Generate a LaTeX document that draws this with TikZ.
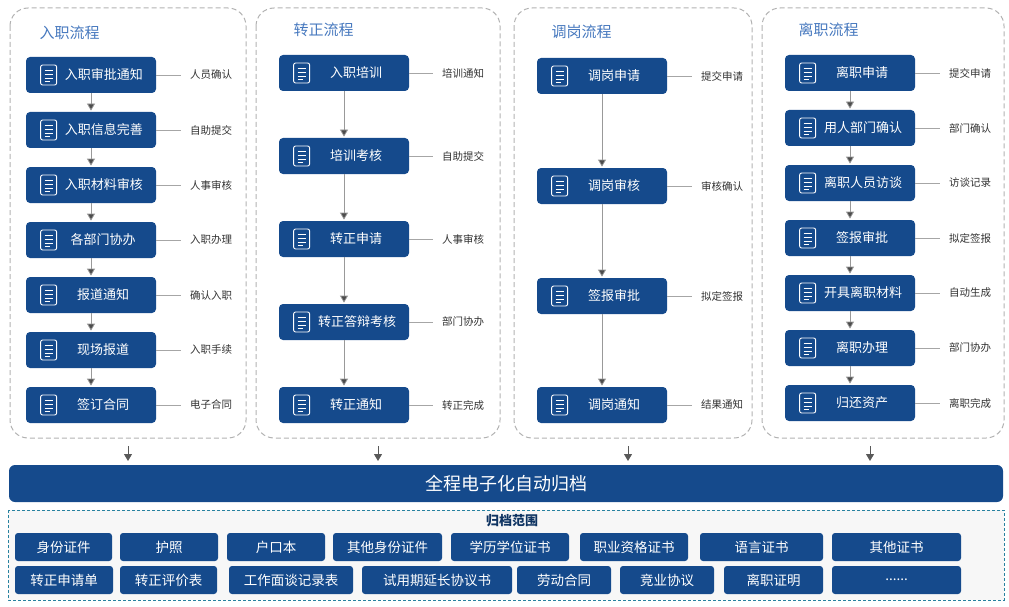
\documentclass[tikz,border=0pt]{standalone}
\usepackage{fontspec}
\setmainfont{Noto Sans CJK SC}
\usetikzlibrary{arrows.meta,calc}
\definecolor{navy}{RGB}{21,74,140}
\definecolor{ttl}{RGB}{70,120,190}
\definecolor{teal}{RGB}{40,130,160}
\newcommand{\moredots}{......}
\tikzset{every picture/.style={line width=0.75pt}}
\tikzset{
  stepbox/.style={fill=navy,rounded corners=4pt,minimum width=130pt,minimum height=36pt,text=white,font=\fontsize{13}{15}\selectfont,text width=100pt,align=center,inner sep=0pt},
  note/.style={font=\fontsize{10.5}{12}\selectfont,text=black!80,inner sep=1pt},
  col/.style={draw=gray!60,dash pattern={on 5pt off 3pt},rounded corners=18pt,line width=1pt},
  flow/.style={draw=gray!80,-{Triangle[length=7pt,width=8pt,fill=black!70]},shorten >=1pt},
  item/.style={fill=navy,rounded corners=3pt,minimum height=28pt,text=white,font=\fontsize{13.5}{15}\selectfont,inner sep=0pt},
  ttlnode/.style={text=ttl,font=\fontsize{15}{17}\selectfont,anchor=west},
}
\newcommand{\docicon}[1]{%
  \draw[white,line width=0.9pt,rounded corners=2pt] ($(#1.west)+(15,-10)$) rectangle ($(#1.west)+(31,10)$);
  \foreach \yy in {-5,-1,3} \draw[white,line width=0.8pt] ($(#1.west)+(19,\yy)$) -- ($(#1.west)+(27,\yy)$);
  \draw[white,line width=0.8pt] ($(#1.west)+(19,6)$) -- ($(#1.west)+(24,6)$);
}
\begin{document}
\begin{tikzpicture}[x=1pt,y=-1pt]
\useasboundingbox (0,0) rectangle (1009,607);

% columns
\draw[col] (10,8) rectangle (246,438);
\draw[col] (256,8) rectangle (500,438);
\draw[col] (514,8) rectangle (752,438);
\draw[col] (762,8) rectangle (1004,438);
\node[ttlnode] (t1) at (36,33) {入职流程};
\node[ttlnode] (t2) at (290,30) {转正流程};
\node[ttlnode] (t3) at (548,32) {调岗流程};
\node[ttlnode] (t4) at (795,30) {离职流程};

% entry flow
\foreach \lab/\nt [count=\i] in {入职审批通知/人员确认,入职信息完善/自助提交,入职材料审核/人事审核,各部门协办/入职办理,报道通知/确认入职,现场报道/入职手续,签订合同/电子合同}{
  \node[stepbox] (rz\i) at (91,{20+55*\i}) {\hspace*{24pt}\lab};
  \docicon{rz\i}
  \node[note] (rzn\i) at (211,{20+55*\i}) {\nt};
  \draw[gray!70,shorten >=8pt] (rz\i.east) -- (rzn\i.west);
}
\foreach \i [evaluate=\i as \j using int(\i+1)] in {1,...,6} \draw[flow] (rz\i) -- (rz\j);

% regular flow
\foreach \lab/\nt [count=\i] in {入职培训/培训通知,培训考核/自助提交,转正申请/人事审核,转正答辩考核/部门协办,转正通知/转正完成}{
  \node[stepbox] (zz\i) at (344,{-10+83*\i}) {\hspace*{24pt}\lab};
  \docicon{zz\i}
  \node[note] (zzn\i) at (463,{-10+83*\i}) {\nt};
  \draw[gray!70,shorten >=8pt] (zz\i.east) -- (zzn\i.west);
}
\foreach \i [evaluate=\i as \j using int(\i+1)] in {1,...,4} \draw[flow] (zz\i) -- (zz\j);

% transfer flow
\foreach \lab/\nt/\yy [count=\i] in {调岗申请/提交申请/76,调岗审核/审核确认/186,签报审批/拟定签报/296,调岗通知/结果通知/405}{
  \node[stepbox] (dg\i) at (602,\yy) {\hspace*{24pt}\lab};
  \docicon{dg\i}
  \node[note] (dgn\i) at (722,\yy) {\nt};
  \draw[gray!70,shorten >=8pt] (dg\i.east) -- (dgn\i.west);
}
\foreach \i [evaluate=\i as \j using int(\i+1)] in {1,...,3} \draw[flow] (dg\i) -- (dg\j);

% leave flow
\foreach \lab/\nt [count=\i] in {离职申请/提交申请,用人部门确认/部门确认,离职人员访谈/访谈记录,签报审批/拟定签报,开具离职材料/自动生成,离职办理/部门协办,归还资产/离职完成}{
  \node[stepbox] (lz\i) at (850,{18+55*\i}) {\hspace*{24pt}\lab};
  \docicon{lz\i}
  \node[note] (lzn\i) at (970,{18+55*\i}) {\nt};
  \draw[gray!70,shorten >=8pt] (lz\i.east) -- (lzn\i.west);
}
\foreach \i [evaluate=\i as \j using int(\i+1)] in {1,...,6} \draw[flow] (lz\i) -- (lz\j);

% archive bar
\node[fill=navy,rounded corners=6pt,minimum width=994pt,minimum height=37pt,text=white,font=\fontsize{18}{20}\selectfont,inner sep=0pt] (bar) at (506,483.5) {全程电子化自动归档};
\foreach \xx/\k in {128/a,378/b,628/c,870/d}{
  \coordinate (s\k) at (\xx,446);
  \coordinate (e\k) at (\xx,461);
  \draw[black!65,-{Triangle[length=7pt,width=8pt]},line width=1pt] (s\k) -- (e\k);
}

% archive scope
\draw[teal,dash pattern={on 3pt off 2pt},fill=gray!6] (8,510) rectangle (1004,600);
\node[font=\bfseries\fontsize{13}{15}\selectfont,text=navy!70!black] (scope) at (512,521) {归档范围};
\foreach \lab/\xa/\xb [count=\i] in {身份证件/15/112,护照/120/218,户口本/227/325,其他身份证件/333/442,学历学位证书/451/569,职业资格证书/580/688,语言证书/700/823,其他证书/832/961}
  \node[item,minimum width={\xb-\xa}] (ra\i) at ({(\xa+\xb)/2},547) {\lab};
\foreach \lab/\xa/\xb [count=\i] in {转正申请单/15/113,转正评价表/120/217,工作面谈记录表/229/353,试用期延长协议书/362/512,劳动合同/517/611,竞业协议/620/714,离职证明/724/823,\moredots/832/961}
  \node[item,minimum width={\xb-\xa}] (rb\i) at ({(\xa+\xb)/2},580) {\lab};
\end{tikzpicture}
\end{document}
